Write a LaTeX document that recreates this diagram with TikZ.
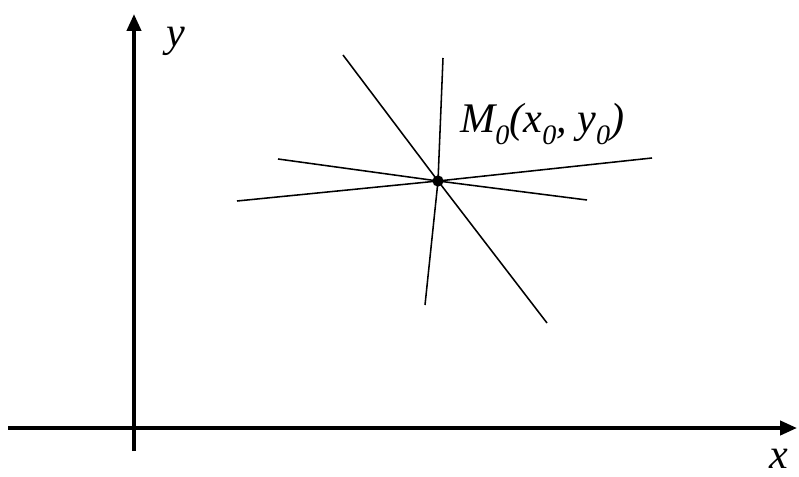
\documentclass[tikz,border=0pt]{standalone}
\usepackage{fontspec}
\setmainfont{Liberation Serif}
\usetikzlibrary{arrows.meta,positioning}

\begin{document}
\begin{tikzpicture}[
  x=0.025cm, y=-0.025cm,
  axis/.style={line width=2.6pt, -{Triangle[length=12pt,width=10pt]}},
  ray/.style={line width=1.1pt},
  lbl/.style={font=\fontsize{30}{36}\selectfont\itshape, inner sep=0pt}
]
\useasboundingbox (0,0) rectangle (799,477);

% axes
\coordinate (xs) at (8,428);
\coordinate (xe) at (797,428);
\coordinate (ys) at (134,451);
\coordinate (ye) at (134,14);
\draw[axis] (xs) -- (xe);
\draw[axis] (ys) -- (ye);
\node[lbl] (ylab) at (176,41) {y};
\node[lbl] (xlab) at (779,459) {x};

% lines through the point
\node[circle, fill, inner sep=0pt, minimum size=8pt] (m0) at (438,181) {};
\coordinate (a1) at (343,55);  \coordinate (a2) at (547,323);
\coordinate (b1) at (443,58);  \coordinate (b2) at (425,305);
\coordinate (c1) at (278,159); \coordinate (c2) at (587,200);
\coordinate (d1) at (237,201); \coordinate (d2) at (652,158);
\draw[ray] (a1) -- (m0.center) -- (a2);
\draw[ray] (b1) -- (m0.center) -- (b2);
\draw[ray] (c1) -- (m0.center) -- (c2);
\draw[ray] (d1) -- (m0.center) -- (d2);

\node[lbl, anchor=base west] (mlab) at (460,133)
  {M\raisebox{-8pt}{\fontsize{20}{24}\selectfont 0}(x\raisebox{-8pt}{\fontsize{20}{24}\selectfont 0}, y\raisebox{-8pt}{\fontsize{20}{24}\selectfont 0})};
\end{tikzpicture}
\end{document}
